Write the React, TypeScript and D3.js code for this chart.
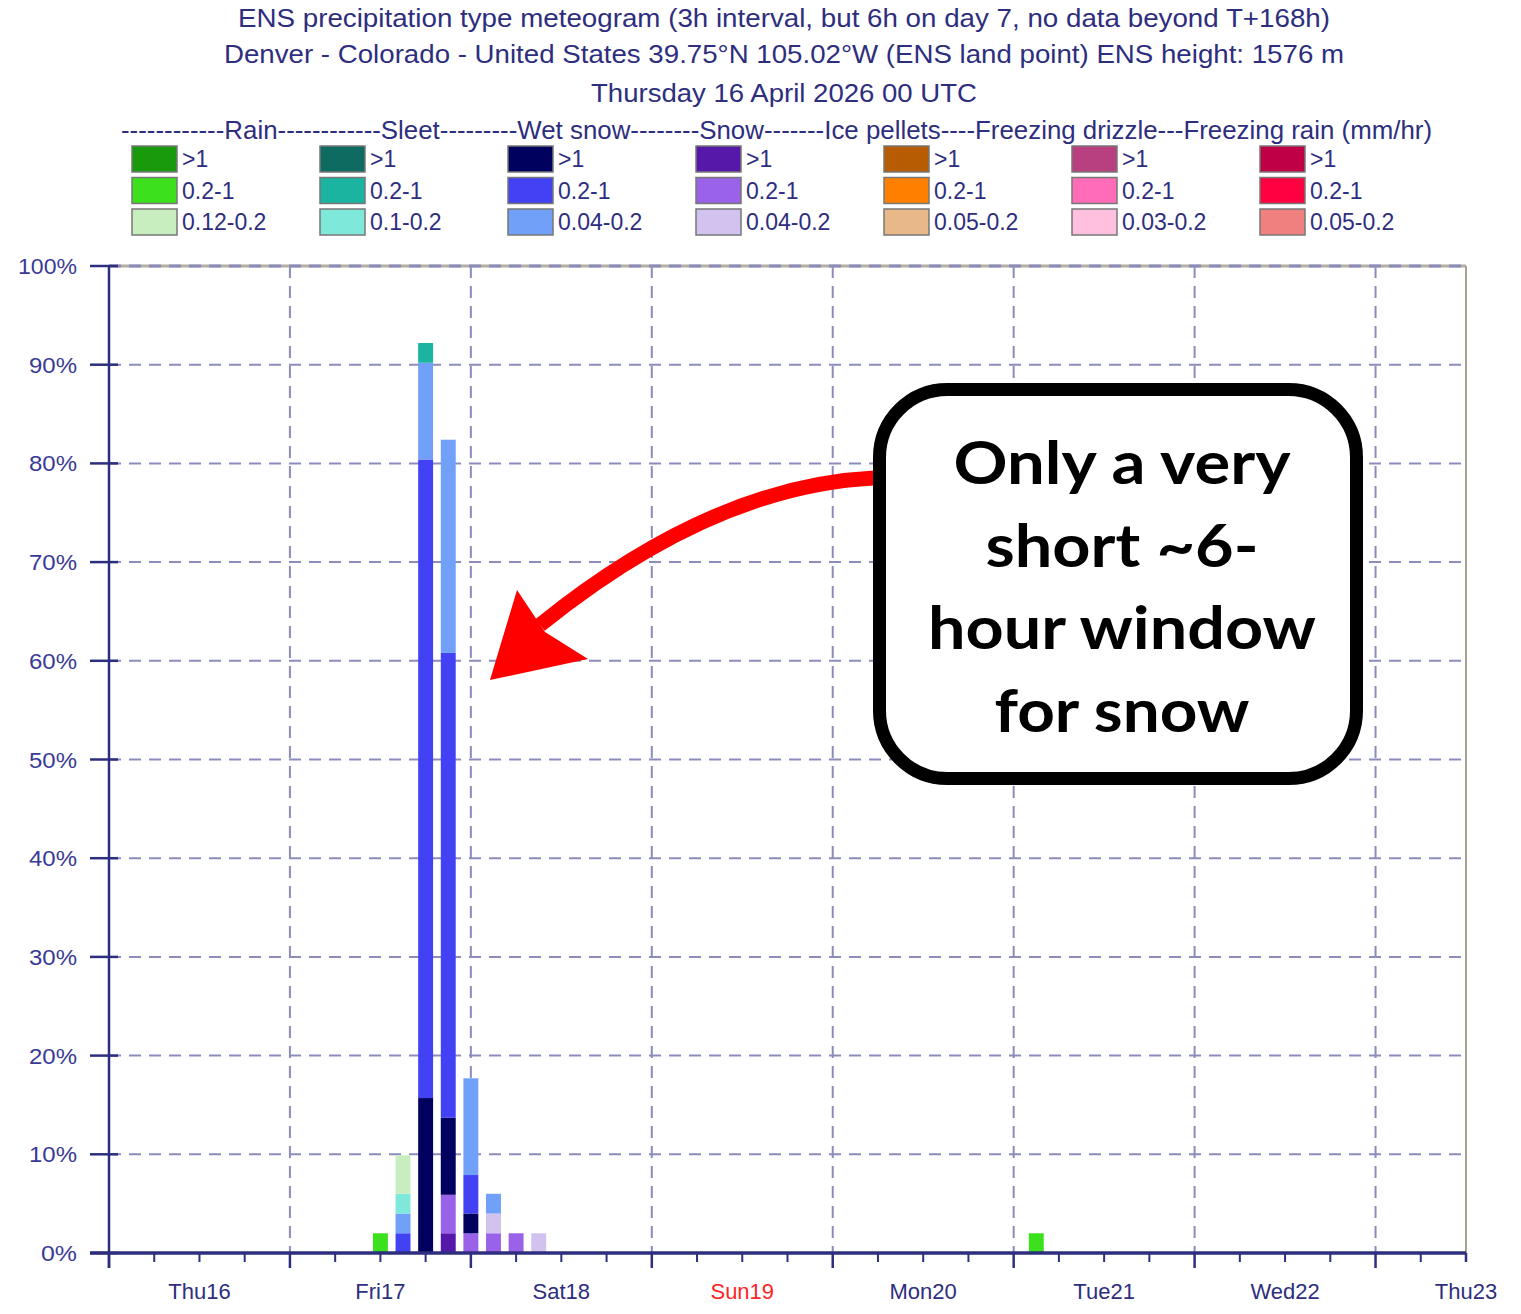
import * as d3 from 'd3';

// time steps (hours after Thu 16 April 2026 00 UTC)
const stepHours = [36, 39, 42, 45, 48, 51, 54, 57, 123];

// ensemble share (%) per precipitation type / intensity class
const snowHeavy = [0, 0, 0, 2.0, 0, 0, 0, 0, 0];
const snowModerate = [0, 0, 0, 3.9, 2.0, 2.0, 2.0, 0, 0];
const snowLight = [0, 0, 0, 0, 0, 2.0, 0, 2.0, 0];
const wetSnowHeavy = [0, 0, 15.7, 7.8, 2.0, 0, 0, 0, 0];
const wetSnowModerate = [0, 2.0, 64.7, 47.1, 3.9, 0, 0, 0, 0];
const wetSnowLight = [0, 2.0, 9.8, 21.6, 9.8, 2.0, 0, 0, 0];
const sleetHeavy = [0, 0, 0, 0, 0, 0, 0, 0, 0];
const sleetModerate = [0, 0, 2.0, 0, 0, 0, 0, 0, 0];
const sleetLight = [0, 2.0, 0, 0, 0, 0, 0, 0, 0];
const rainHeavy = [0, 0, 0, 0, 0, 0, 0, 0, 0];
const rainModerate = [2.0, 0, 0, 0, 0, 0, 0, 0, 2.0];
const rainLight = [0, 3.9, 0, 0, 0, 0, 0, 0, 0];

const precipTypes = ['Rain', 'Sleet', 'Wet snow', 'Snow', 'Ice pellets', 'Freezing drizzle', 'Freezing rain'];
const intensityLabels = [
  ['>1', '0.2-1', '0.12-0.2'],
  ['>1', '0.2-1', '0.1-0.2'],
  ['>1', '0.2-1', '0.04-0.2'],
  ['>1', '0.2-1', '0.04-0.2'],
  ['>1', '0.2-1', '0.05-0.2'],
  ['>1', '0.2-1', '0.03-0.2'],
  ['>1', '0.2-1', '0.05-0.2'],
];
const typeColors = [
  ['#189a0c', '#3ce01c', '#c8eec0'],
  ['#0e6b62', '#1ab4a0', '#7ee8da'],
  ['#00005e', '#4242f4', '#70a0f8'],
  ['#5618a8', '#9a62e8', '#d2c2f0'],
  ['#b85c04', '#ff8000', '#e8b888'],
  ['#b84080', '#ff6cb8', '#ffc0e0'],
  ['#c00046', '#ff0040', '#f08080'],
];

const titleLines = [
  'ENS precipitation type meteogram (3h interval, but 6h on day 7, no data beyond T+168h)',
  'Denver - Colorado - United States 39.75°N 105.02°W (ENS land point) ENS height: 1576 m',
  'Thursday 16 April 2026 00 UTC',
];
const legendHeader =
  '------------Rain------------Sleet---------Wet snow--------Snow-------Ice pellets----Freezing drizzle---Freezing rain (mm/hr)';
const dayLabels = ['Thu16', 'Fri17', 'Sat18', 'Sun19', 'Mon20', 'Tue21', 'Wed22', 'Thu23'];
const yTicks = [0, 10, 20, 30, 40, 50, 60, 70, 80, 90, 100];
const noteLines = ['Only a very', 'short ~6-', 'hour window', 'for snow'];

// stacking order, bottom to top
const stackKeys = [
  { key: 'snowHeavy', values: snowHeavy, color: typeColors[3][0] },
  { key: 'snowModerate', values: snowModerate, color: typeColors[3][1] },
  { key: 'snowLight', values: snowLight, color: typeColors[3][2] },
  { key: 'wetSnowHeavy', values: wetSnowHeavy, color: typeColors[2][0] },
  { key: 'wetSnowModerate', values: wetSnowModerate, color: typeColors[2][1] },
  { key: 'wetSnowLight', values: wetSnowLight, color: typeColors[2][2] },
  { key: 'sleetHeavy', values: sleetHeavy, color: typeColors[1][0] },
  { key: 'sleetModerate', values: sleetModerate, color: typeColors[1][1] },
  { key: 'sleetLight', values: sleetLight, color: typeColors[1][2] },
  { key: 'rainHeavy', values: rainHeavy, color: typeColors[0][0] },
  { key: 'rainModerate', values: rainModerate, color: typeColors[0][1] },
  { key: 'rainLight', values: rainLight, color: typeColors[0][2] },
];

const W = 1521;
const H = 1314;
const navy = '#2e2e7e';
const font = '"Liberation Sans", Arial, sans-serif';

// widths of the text lines as they appear in the original image
const titleWidths = [1092, 1120, 386];
const titleBaselines = [27, 63, 102];
const noteWidths = [337, 273, 388, 255];

export default function App() {
  const x = d3.scaleLinear().domain([0, 180]).range([109, 1466]);
  const y = d3.scaleLinear().domain([0, 100]).range([1253, 266]);

  const rows = stepHours.map((h, i) => {
    const r: any = { h };
    stackKeys.forEach(s => (r[s.key] = s.values[i]));
    return r;
  });
  const series = d3.stack<any>().keys(stackKeys.map(s => s.key))(rows);
  const barW = (x(3) - x(0)) * 0.66;

  const dayBounds = d3.range(0, 169, 24);
  const minorTicks = d3.range(0, 181, 6).filter(h => h % 24 !== 0);

  const arrow = d3.path();
  arrow.moveTo(874, 478);
  arrow.quadraticCurveTo(712, 486, 540, 625);

  return (
    <svg width={W} height={H} style={{ position: 'absolute', left: 0, top: 0, background: '#fff' }}>
      <g fontFamily={font} fill={navy} fontSize={26}>
        {titleLines.map((t, i) => (
          <text
            key={i}
            x={784 - titleWidths[i] / 2}
            y={titleBaselines[i]}
            textLength={titleWidths[i]}
            lengthAdjust="spacingAndGlyphs"
          >
            {t}
          </text>
        ))}
        <text x={121} y={139} textLength={1311} lengthAdjust="spacingAndGlyphs">
          {legendHeader}
        </text>
      </g>

      {/* legend */}
      <g fontFamily={font} fontSize={23} fill={navy}>
        {precipTypes.map((t, ti) =>
          intensityLabels[ti].map((lab, li) => (
            <g key={t + li} transform={`translate(${132 + ti * 188},${146 + li * 31.5})`}>
              <rect width={45} height={26} fill={typeColors[ti][li]} stroke="#777" strokeWidth={1.5} />
              <text x={50} y={21}>{lab}</text>
            </g>
          ))
        )}
      </g>

      {/* grid */}
      <g stroke="#8c8cbc" strokeWidth={2} strokeDasharray="12 8">
        {yTicks.slice(1, -1).map(t => (
          <line key={t} x1={109} x2={1466} y1={y(t)} y2={y(t)} />
        ))}
        {dayBounds.slice(1).map(h => (
          <line key={h} x1={x(h)} x2={x(h)} y1={266} y2={1253} />
        ))}
      </g>
      <line x1={109} x2={1466} y1={266} y2={266} stroke="#b4aea0" strokeWidth={3} />
      <line x1={109} x2={1466} y1={266} y2={266} stroke="#8c8cbc" strokeWidth={3} strokeDasharray="12 8" />
      <line x1={1466} x2={1466} y1={266} y2={1253} stroke="#a8a090" strokeWidth={2} />

      {/* bars */}
      {series.map((s, si) => (
        <g key={s.key} fill={stackKeys[si].color}>
          {s
            .filter(d => d[1] - d[0] > 0)
            .map(d => (
              <rect
                key={d.data.h}
                x={x(d.data.h) - barW / 2}
                width={barW}
                y={y(d[1])}
                height={y(d[0]) - y(d[1])}
              />
            ))}
        </g>
      ))}

      {/* y axis */}
      <g stroke={navy} strokeWidth={2.5}>
        <line x1={109} x2={109} y1={266} y2={1268} />
        {yTicks.map(t => (
          <line key={t} x1={90} x2={118} y1={y(t)} y2={y(t)} />
        ))}
      </g>
      <g fontFamily={font} fontSize={22} fill="#3a3a96" textAnchor="end">
        {yTicks.map(t => (
          <text key={t} x={77} y={y(t) + 8} textLength={t === 100 ? 59 : t === 0 ? 36 : 48} lengthAdjust="spacingAndGlyphs">
            {t}%
          </text>
        ))}
      </g>

      {/* x axis */}
      <line x1={90} x2={1466} y1={1253} y2={1253} stroke={navy} strokeWidth={3.5} />
      <g stroke={navy} strokeWidth={2.5}>
        {dayBounds.map(h => (
          <line key={h} x1={x(h)} x2={x(h)} y1={1253} y2={1268} />
        ))}
        <line x1={x(180)} x2={x(180)} y1={1253} y2={1262} />
        {minorTicks.map(h => (
          <line key={h} x1={x(h)} x2={x(h)} y1={1253} y2={1262} strokeWidth={2} />
        ))}
      </g>
      <g fontFamily={font} fontSize={22} textAnchor="middle">
        {dayLabels.map((d, i) => (
          <text key={d} x={x(i * 24 + 12)} y={1299} fill={d.startsWith('Sun') ? '#ff2424' : navy}>
            {d}
          </text>
        ))}
      </g>

      {/* annotation */}
      <path d={arrow.toString()} fill="none" stroke="#ff0000" strokeWidth={15} />
      <polygon points="490,680 517,590 545,632 588,659" fill="#ff0000" />
      <rect x={879.5} y={389.5} width={477} height={389} rx={68} fill="#fff" stroke="#000" strokeWidth={13} />
      <g fontFamily="Lato, 'Open Sans', sans-serif" fontWeight={700} fontSize={60} fill="#000">
        {noteLines.map((l, i) => (
          <text
            key={l}
            x={1122 - noteWidths[i] / 2}
            y={484 + i * 82.5}
            textLength={noteWidths[i]}
            lengthAdjust="spacingAndGlyphs"
          >
            {l}
          </text>
        ))}
      </g>
    </svg>
  );
}
